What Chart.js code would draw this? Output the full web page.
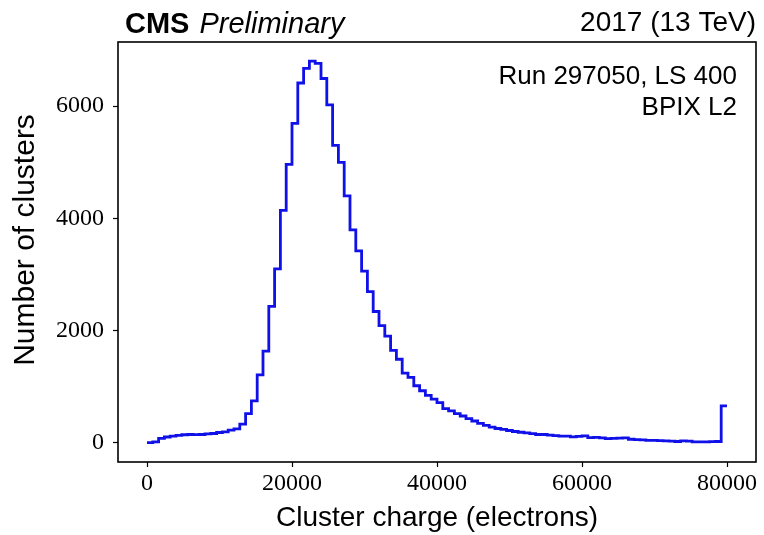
<!DOCTYPE html>
<html>
<head>
<meta charset="utf-8">
<script src="https://cdn.jsdelivr.net/npm/chart.js@4"></script>
<style>
  html, body { margin: 0; padding: 0; background: #fff; }
  #plot { display: block; }
</style>
</head>
<body>
<canvas id="plot" width="764" height="535"></canvas>
<script>
// Cluster charge histogram, 100 bins of 800 electrons from 0 to 80000
const binWidth = 800;
const clusterCounts = [
  5, 20, 80, 105, 120, 135, 145, 150, 148, 150,
  160, 168, 185, 195, 228, 250, 335, 520, 750, 1210,
  1635, 2430, 3100, 4140, 4960, 5690, 6410, 6670, 6800, 6760,
  6490, 6020, 5300, 4995, 4400, 3795, 3420, 3060, 2696, 2340,
  2090, 1900, 1647, 1490, 1243, 1168, 1018, 929, 845, 778,
  719, 611, 569, 521, 479, 431, 390, 347, 311, 281,
  257, 240, 221, 203, 190, 180, 165, 150, 150, 140,
  130, 120, 120, 108, 115, 125, 95, 100, 90, 75,
  80, 85, 90, 65, 60, 55, 45, 45, 40, 35,
  30, 25, 35, 30, 20, 20, 20, 22, 25, 660
];
const xTicks = [0, 20000, 40000, 60000, 80000];
const yTicks = [0, 2000, 4000, 6000];

const xLabel = 'Cluster charge (electrons)';
const yLabel = 'Number of clusters';
const runInfo = ['Run 297050, LS 400', 'BPIX L2'];

// step outline: one point per left bin edge, plus the closing right edge
const points = clusterCounts.map((c, i) => ({ x: i * binWidth, y: c }));
points.push({ x: clusterCounts.length * binWidth, y: clusterCounts[clusterCounts.length - 1] });

// frame + CMS header + run info
const decorations = {
  id: 'decorations',
  afterDraw(chart) {
    const ctx = chart.ctx;
    const a = chart.chartArea;
    ctx.save();
    ctx.strokeStyle = '#000';
    ctx.lineWidth = 1.6;
    ctx.strokeRect(a.left, a.top, a.right - a.left, a.bottom - a.top);

    ctx.fillStyle = '#000';
    ctx.textBaseline = 'alphabetic';
    ctx.textAlign = 'left';
    ctx.font = 'bold 29px "Liberation Sans"';
    ctx.fillText('CMS', 125, 33);
    const w = ctx.measureText('CMS').width;
    ctx.font = 'italic 29px "Liberation Sans"';
    ctx.fillText('Preliminary', 125 + w + 10, 33);

    ctx.textAlign = 'right';
    ctx.font = '28px "Liberation Sans"';
    ctx.fillText('2017 (13 TeV)', 756, 31);

    ctx.font = '26px "Liberation Sans"';
    ctx.fillText(runInfo[0], 737, 84);
    ctx.fillText(runInfo[1], 737, 115);

    ctx.textAlign = 'center';
    ctx.textBaseline = 'middle';
    ctx.font = '28px "Liberation Sans"';
    ctx.fillText(xLabel, (a.left + a.right) / 2, 518);

    ctx.translate(26, 240);
    ctx.rotate(-Math.PI / 2);
    ctx.font = '30px "Liberation Sans"';
    ctx.fillText(yLabel, 0, 0);
    ctx.restore();
  }
};

new Chart(document.getElementById('plot'), {
  type: 'line',
  data: {
    datasets: [{
      data: points,
      stepped: 'before',
      borderColor: '#1010e8',
      borderWidth: 2.8,
      pointRadius: 0,
      fill: false
    }]
  },
  options: {
    responsive: false,
    animation: false,
    devicePixelRatio: 1,
    layout: { padding: { left: 0, right: 8, top: 42, bottom: 0 } },
    plugins: { legend: { display: false }, tooltip: { enabled: false } },
    scales: {
      x: {
        type: 'linear',
        min: -4000,
        max: 84000,
        afterBuildTicks: s => { s.ticks = xTicks.map(v => ({ value: v })); },
        afterFit: s => { s.height = 73; },
        grid: { display: true, drawOnChartArea: false, drawTicks: true, tickLength: 5, color: '#000', tickWidth: 1.2 },
        border: { display: false },
        ticks: {
          color: '#000',
          padding: 2,
          maxRotation: 0,
          font: { family: '"Liberation Serif"', size: 24 },
          callback: v => String(v)
        }
      },
      y: {
        min: -340,
        max: 7140,
        afterBuildTicks: s => { s.ticks = yTicks.map(v => ({ value: v })); },
        afterFit: s => { s.width = 118; },
        grid: { display: true, drawOnChartArea: false, drawTicks: true, tickLength: 5, color: '#000', tickWidth: 1.2 },
        border: { display: false },
        ticks: {
          color: '#000',
          padding: 9,
          font: { family: '"Liberation Serif"', size: 24 },
          callback: v => String(v)
        }
      }
    }
  },
  plugins: [decorations]
});
</script>
</body>
</html>
